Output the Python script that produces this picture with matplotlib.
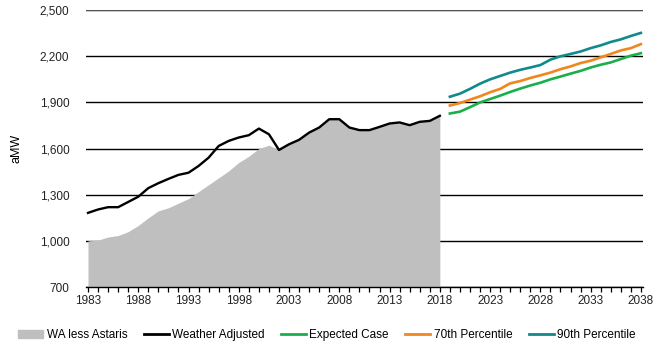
import numpy as np
import matplotlib
matplotlib.use("Agg")
import matplotlib.pyplot as plt
from matplotlib.patches import Patch
from matplotlib.lines import Line2D
from matplotlib.ticker import FuncFormatter

plt.rcParams['font.family'] = ['Liberation Sans', 'DejaVu Sans']

# Historical load, 1983-2018 (aMW)
years_hist = list(range(1983, 2019))
weather_adjusted = [1182, 1204, 1219, 1219, 1253, 1287, 1343, 1375, 1403, 1429,
                    1443, 1487, 1541, 1617, 1650, 1672, 1687, 1730, 1693, 1591,
                    1628, 1657, 1704, 1737, 1791, 1791, 1737, 1720, 1720, 1741,
                    1763, 1770, 1752, 1774, 1780, 1813]
wa_less_astaris = [1000, 1005, 1025, 1035, 1060, 1100, 1150, 1195, 1215, 1245,
                   1275, 1320, 1365, 1410, 1455, 1510, 1550, 1600, 1622, 1591,
                   1628, 1657, 1704, 1737, 1791, 1791, 1737, 1720, 1720, 1741,
                   1763, 1770, 1752, 1774, 1780, 1813]

# Forecast, 2019-2038 (aMW)
years_fc = list(range(2019, 2039))
expected_case = [1828, 1840, 1869, 1900, 1922, 1944, 1968, 1990, 2010, 2028,
                 2050, 2068, 2087, 2105, 2127, 2145, 2160, 2182, 2204, 2220]
pct_70 = [1880, 1896, 1918, 1940, 1966, 1988, 2024, 2039, 2059, 2076,
          2094, 2116, 2134, 2156, 2171, 2193, 2215, 2238, 2253, 2279]
pct_90 = [1937, 1957, 1988, 2022, 2050, 2072, 2094, 2112, 2127, 2143,
          2178, 2200, 2215, 2231, 2253, 2271, 2293, 2310, 2332, 2352]

y_ticks = list(range(700, 2501, 300))
x_ticks = list(range(1983, 2039, 5))

GRAY = '#bfbfbf'
GREEN = '#1aaf4a'
ORANGE = '#f0861e'
TEAL = '#12898a'

fig, ax = plt.subplots(figsize=(6.54, 3.5), dpi=100)
fig.subplots_adjust(left=0.1315, right=0.983, top=0.971, bottom=0.18)

ax.fill_between(years_hist, wa_less_astaris, 700, color=GRAY, lw=0, zorder=1)
ax.plot(years_hist, weather_adjusted, color='black', lw=1.7, zorder=3)
ax.plot(years_fc, expected_case, color=GREEN, lw=1.9, zorder=3)
ax.plot(years_fc, pct_70, color=ORANGE, lw=1.9, zorder=3)
ax.plot(years_fc, pct_90, color=TEAL, lw=1.9, zorder=3)

ax.set_ylim(700, 2500)
ax.set_xlim(1982.8, 2038.2)
ax.set_yticks(y_ticks)
ax.yaxis.set_major_formatter(FuncFormatter(lambda v, p: f'{int(v):,}'))
ax.set_xticks(x_ticks)
ax.set_xticks(list(range(1983, 2039)), minor=True)

ax.set_axisbelow(True)
ax.grid(axis='y', color='black', lw=1.0)
ax.axhline(2500, color='#555555', lw=1.4, zorder=0.6)

for s in ['top', 'right', 'left']:
    ax.spines[s].set_visible(False)
ax.spines['bottom'].set_color('black')
ax.spines['bottom'].set_linewidth(1.0)
ax.spines['bottom'].set_zorder(4)

ax.tick_params(axis='y', length=0, pad=12, labelsize=8.5, labelcolor='#222222')
ax.tick_params(axis='x', which='both', direction='out', length=3.5, width=0.9,
               pad=2, labelsize=8.5, labelcolor='#222222')
ax.set_ylabel('aMW', fontsize=9, labelpad=12)

handles = [Patch(color=GRAY),
           Line2D([], [], color='black', lw=2),
           Line2D([], [], color=GREEN, lw=2),
           Line2D([], [], color=ORANGE, lw=2),
           Line2D([], [], color=TEAL, lw=2)]
labels = ['WA less Astaris', 'Weather Adjusted', 'Expected Case',
          '70th Percentile', '90th Percentile']
fig.legend(handles, labels, loc='lower center', bbox_to_anchor=(0.5, -0.005),
           ncol=5, frameon=False, fontsize=8.5, handlelength=2.1,
           handletextpad=0.3, columnspacing=1.4, handleheight=0.6)

fig.savefig('out.png', dpi=100)
